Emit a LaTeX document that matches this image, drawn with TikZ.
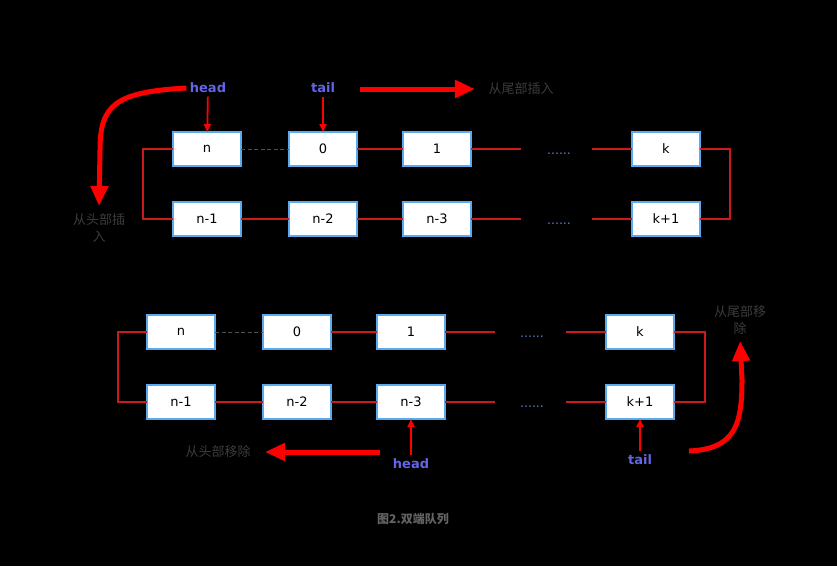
\documentclass[tikz,border=0pt]{standalone}
\usepackage{fontspec}
\setmainfont{DejaVu Sans}
\newfontfamily\cjk{Noto Sans CJK SC}
\usetikzlibrary{arrows.meta, positioning, calc}
\definecolor{Wire} {HTML}{CC1A1A}
\definecolor{Push} {HTML}{FF0000}
\definecolor{Edge} {HTML}{5AAAF0}
\definecolor{Ptr}  {HTML}{6464E6}
\definecolor{Dots} {HTML}{5A7FC0}
\definecolor{Note} {HTML}{3C3C3C}
\definecolor{Gap}  {HTML}{505050}
\tikzset{
  cell/.style={draw=Edge, fill=white, line width=1.5pt, outer sep=0pt, inner sep=0pt,
               minimum width=68pt, minimum height=34pt, font=\fontsize{13}{15}\selectfont},
  wire/.style={draw=Wire, line width=1.6pt},
  gapline/.style={draw=Gap, line width=1pt, dash pattern=on 4pt off 2.5pt},
  dotrow/.style={text=Dots, font=\fontsize{12.5}{14}\selectfont},
  ptr/.style={text=Ptr, font=\fontsize{13}{15}\selectfont\bfseries},
  tip/.style={-{Triangle[length=8pt,width=7pt]}, draw=Push, line width=1.8pt},
  bigarr/.style={-{Triangle[length=20pt,width=17pt]}, draw=Push, line width=5pt},
  note/.style={text=Note, font=\cjk\fontsize{13}{17}\selectfont, align=center}
}
\begin{document}
\begin{tikzpicture}[x=1pt,y=-1pt]
  \fill[black] (0,0) rectangle (837,566);
  % upper queue
  \node[cell] (tn) at (207,149) {n};
  \node[cell,right=48pt of tn] (t0) {0};
  \node[cell,right=46pt of t0] (t1) {1};
  \node[cell,right=161pt of t1] (tk) {k};
  \node[cell,below=36pt of tn] (tn1) {n-1};
  \node[cell,below=36pt of t0] (tn2) {n-2};
  \node[cell,below=36pt of t1] (tn3) {n-3};
  \node[cell,below=36pt of tk] (tk1) {k+1};
  \node[dotrow] (tdu) at (559,154) {......};
  \node[dotrow] (tdl) at (559,224) {......};
  \coordinate (tc1) at (521,149); \coordinate (tc2) at (592,149);
  \coordinate (tc3) at (521,219); \coordinate (tc4) at (592,219);
  \draw[gapline](tn)--(t0);
  \draw[wire](t0)--(t1); \draw[wire](t1)--(tc1); \draw[wire](tc2)--(tk);
  \draw[wire](tn1)--(tn2); \draw[wire](tn2)--(tn3); \draw[wire](tn3)--(tc3); \draw[wire](tc4)--(tk1);
  \draw[wire](tk.east)--++(30,0)|-(tk1.east);
  \draw[wire](tn.west)--++(-30,0)|-(tn1.west);
  \node[ptr] (thead) at (208,88) {head};
  \node[ptr] (ttail) at (323,88) {tail};
  \draw[tip](thead)--(tn); \draw[tip](ttail)--(t0);
  \node[note] (tpush) at (521,89) {从尾部插入};
  \node[note] (tins) at (99,228) {从头部插\\入};
  \coordinate (tps) at (360,89);
  \draw[bigarr,shorten >=10pt](tps)--(tpush);
  \coordinate (tbend) at (100,150);
  \draw[bigarr,shorten >=4pt](thead.west) .. controls (115,92) and (100,105) .. (tbend)--(tins.north);
  % lower queue
  \node[cell] (bn) at (181,332) {n};
  \node[cell,right=48pt of bn] (b0) {0};
  \node[cell,right=46pt of b0] (b1) {1};
  \node[cell,right=161pt of b1] (bk) {k};
  \node[cell,below=36pt of bn] (bn1) {n-1};
  \node[cell,below=36pt of b0] (bn2) {n-2};
  \node[cell,below=36pt of b1] (bn3) {n-3};
  \node[cell,below=36pt of bk] (bk1) {k+1};
  \node[dotrow] (bdu) at (532,337) {......};
  \node[dotrow] (bdl) at (532,407) {......};
  \coordinate (bc1) at (495,332); \coordinate (bc2) at (566,332);
  \coordinate (bc3) at (495,402); \coordinate (bc4) at (566,402);
  \draw[gapline](bn)--(b0);
  \draw[wire](b0)--(b1); \draw[wire](b1)--(bc1); \draw[wire](bc2)--(bk);
  \draw[wire](bn1)--(bn2); \draw[wire](bn2)--(bn3); \draw[wire](bn3)--(bc3); \draw[wire](bc4)--(bk1);
  \draw[wire](bk.east)--++(31,0)|-(bk1.east);
  \draw[wire](bn.west)--++(-29,0)|-(bn1.west);
  \node[ptr] (bhead) at (411,464) {head};
  \node[ptr] (btail) at (640,460) {tail};
  \draw[tip](bhead)--(bn3); \draw[tip](btail)--(bk1);
  \node[note] (bpop) at (218,452) {从头部移除};
  \node[note] (brem) at (740,320) {从尾部移\\除};
  \coordinate (bps) at (380,452);
  \draw[bigarr,shorten >=11pt](bps)--(bpop);
  \coordinate (bcs) at (689,451); \coordinate (bbend) at (742,380);
  \draw[bigarr,shorten >=3pt](bcs) .. controls (735,449) and (742,425) .. (bbend)--(brem.south);
  \node[text=Note!80!white, font=\cjk\bfseries\fontsize{12}{14}\selectfont] (cap) at (413,519) {图2.双端队列};
\end{tikzpicture}
\end{document}
